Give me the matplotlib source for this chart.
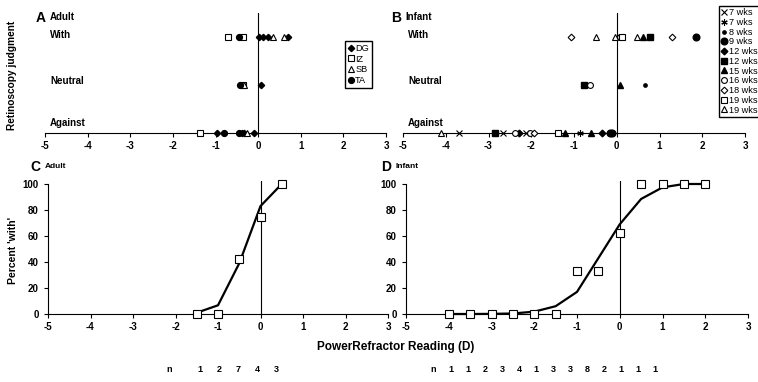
import matplotlib
matplotlib.use("Agg")
import matplotlib.pyplot as plt
from matplotlib.lines import Line2D

# ── Data ──────────────────────────────────────────────────────────────────────
LEVELS = {"Against": 0, "Neutral": 1, "With": 2}

# Panel A: adults, PowerRefractor reading vs retinoscopy judgment
DG_X = [0.03, 0.12, 0.22, 0.69, 0.06, -0.96, -0.39, -0.34, -0.09]
DG_J = ["With", "With", "With", "With", "Neutral", "Against", "Against", "Against", "Against"]
IZ_X = [-0.71, -0.36, -0.35, -1.36]
IZ_J = ["With", "With", "Neutral", "Against"]
SB_X = [0.35, 0.60, -0.34, -0.26]
SB_J = ["With", "With", "Neutral", "Against"]
TA_X = [-0.44, -0.43, -0.81, -0.44]
TA_J = ["With", "Neutral", "Against", "Against"]

# Panel B: infants
W7X_X = [-3.69, -2.65, -2.12]
W7X_J = ["Against", "Against", "Against"]
W7S_X = [-0.86]
W7S_J = ["Against"]
W8_X = [0.67]
W8_J = ["Neutral"]
W9_X = [1.86, -0.16, -0.10]
W9_J = ["With", "Against", "Against"]
W12D_X = [-2.28, -0.34]
W12D_J = ["Against", "Against"]
W12S_X = [0.77, -0.76, -2.84]
W12S_J = ["With", "Neutral", "Against"]
W15_X = [0.61, 0.08, -1.20, -0.60]
W15_J = ["With", "Neutral", "Against", "Against"]
W16_X = [0.07, -0.62, -2.38, -2.03]
W16_J = ["With", "Neutral", "Against", "Against"]
W18_X = [-1.07, 1.30, -1.94]
W18_J = ["With", "With", "Against"]
W19S_X = [0.13, -1.38]
W19S_J = ["With", "Against"]
W19T_X = [-0.48, 0.47, -0.05, -4.10]
W19T_J = ["With", "With", "With", "Against"]

# Panel C: adult percent 'with'
ADULT_BINS = [-1.5, -1.0, -0.5, 0.0, 0.5]
ADULT_PCT = [0, 0, 42.5, 75, 100]
ADULT_FIT = [1, 6.7, 39, 83, 100]
ADULT_N = [1, 2, 7, 4, 3]

# Panel D: infant percent 'with'
INFANT_BINS = [-4.0, -3.5, -3.0, -2.5, -2.0, -1.5, -1.0, -0.5, 0.0, 0.5, 1.0, 1.5, 2.0]
INFANT_PCT = [0, 0, 0, 0, 0, 0, 33.3, 33.3, 62, 100, 100, 100, 100]
INFANT_FIT = [0, 0, 0.1, 0.4, 1.8, 6, 17, 43, 69, 88.5, 97.4, 100, 100]
INFANT_N = [1, 1, 2, 3, 4, 1, 3, 3, 8, 2, 1, 1, 1]

X_TICKS = [-5, -4, -3, -2, -1, 0, 1, 2, 3]
Y_TICKS = [0, 20, 40, 60, 80, 100]

# ── Style ─────────────────────────────────────────────────────────────────────
FONT = ["Liberation Sans Narrow", "Liberation Sans", "DejaVu Sans"]
plt.rcParams.update({
    "font.family": FONT,
    "font.weight": "bold",
    "font.size": 7,
    "axes.unicode_minus": False,
    "axes.linewidth": 0.8,
    "xtick.major.width": 0.8,
    "ytick.major.width": 0.8,
    "xtick.major.size": 3,
    "ytick.major.size": 3,
    "xtick.direction": "out",
    "ytick.direction": "out",
})

W, H = 758, 382


def rect(x0, y_top, x1, y_bot):
    return [x0 / W, 1 - y_bot / H, (x1 - x0) / W, (y_bot - y_top) / H]


def ftext(fig, x, y, s, **kw):
    fig.text(x / W, 1 - y / H, s, **kw)


fig = plt.figure(figsize=(W / 100, H / 100), dpi=100)
fig.patch.set_facecolor("white")

FILLED = dict(color="black", linestyle="none")
OPEN = dict(color="black", markerfacecolor="white", markeredgewidth=0.8, linestyle="none")


def judgment_axes(r):
    ax = fig.add_axes(r)
    ax.set_xlim(-5, 3)
    ax.set_ylim(0, 2.5)
    for s in ("top", "right", "left"):
        ax.spines[s].set_visible(False)
    ax.set_yticks([])
    ax.set_xticks(X_TICKS)
    ax.tick_params(axis="x", labelsize=7, pad=3)
    ax.axvline(0, color="black", linewidth=0.8, zorder=1)
    for lab in ax.get_xticklabels():
        lab.set_fontweight("bold")
    return ax


# ── Panel A ───────────────────────────────────────────────────────────────────
axA = judgment_axes(rect(45, 13, 386, 133))
subjects = [
    (DG_X, DG_J, "DG", dict(marker="D", markersize=3.2, **FILLED)),
    (IZ_X, IZ_J, "IZ", dict(marker="s", markersize=4.6, **OPEN)),
    (SB_X, SB_J, "SB", dict(marker="^", markersize=4.6, **OPEN)),
    (TA_X, TA_J, "TA", dict(marker="o", markersize=4.2, **FILLED)),
]
handles = []
for xs, js, name, st in subjects:
    axA.plot(xs, [LEVELS[j] for j in js], clip_on=False, zorder=3, **st)
    handles.append(Line2D([], [], label=name, **st))
fig.legend(handles=handles, loc="upper left", bbox_to_anchor=(345 / W, 1 - 41 / H),
           frameon=True, fancybox=False, edgecolor="black", framealpha=1,
           handlelength=0.6, handletextpad=0.2, labelspacing=0.2,
           borderpad=0.3, borderaxespad=0, prop={"family": FONT, "size": 6.6, "weight": "normal"})

# ── Panel B ───────────────────────────────────────────────────────────────────
axB = judgment_axes(rect(403, 13, 745, 133))
infants = [
    (W7X_X, W7X_J, "7 wks", dict(marker="x", markersize=3.8, markeredgewidth=0.8, **FILLED)),
    (W7S_X, W7S_J, "7 wks", dict(marker=(6, 2, 0), markersize=4.6, markeredgewidth=0.8, **FILLED)),
    (W8_X, W8_J, "8 wks", dict(marker="o", markersize=2.4, **FILLED)),
    (W9_X, W9_J, "9 wks", dict(marker="o", markersize=4.8, **FILLED)),
    (W12D_X, W12D_J, "12 wks", dict(marker="D", markersize=3.4, **FILLED)),
    (W12S_X, W12S_J, "12 wks", dict(marker="s", markersize=4.2, **FILLED)),
    (W15_X, W15_J, "15 wks", dict(marker="^", markersize=4.2, **FILLED)),
    (W16_X, W16_J, "16 wks", dict(marker="o", markersize=4.2, **OPEN)),
    (W18_X, W18_J, "18 wks", dict(marker="D", markersize=3.4, **OPEN)),
    (W19S_X, W19S_J, "19 wks", dict(marker="s", markersize=4.6, **OPEN)),
    (W19T_X, W19T_J, "19 wks", dict(marker="^", markersize=4.6, **OPEN)),
]
handles = []
for xs, js, name, st in infants:
    axB.plot(xs, [LEVELS[j] for j in js], clip_on=False, zorder=3, **st)
    handles.append(Line2D([], [], label=name, **st))
fig.legend(handles=handles, loc="upper left", bbox_to_anchor=(719 / W, 1 - 6 / H),
           frameon=True, fancybox=False, edgecolor="black", framealpha=1,
           handlelength=0.6, handletextpad=0.2, labelspacing=0.08,
           borderpad=0.25, borderaxespad=0, prop={"family": FONT, "size": 6.6, "weight": "normal"})

# panel labels A / B
for x0, letter, group in ((36, "A", "Adult"), (391, "B", "Infant")):
    ftext(fig, x0, 18, letter, fontsize=10, fontweight="bold", family="Liberation Sans", va="center")
    ftext(fig, x0 + 14, 17, group, fontsize=7, fontweight="bold", va="center")
for x0 in (50, 408):
    ftext(fig, x0, 35, "With", fontsize=7, fontweight="bold", va="center")
    ftext(fig, x0, 81, "Neutral", fontsize=7, fontweight="bold", va="center")
    ftext(fig, x0, 123, "Against", fontsize=7, fontweight="bold", va="center")
ftext(fig, 12, 75, "Retinoscopy judgment", fontsize=7.3, fontweight="bold",
      rotation=90, ha="center", va="center")


# ── Panels C / D ──────────────────────────────────────────────────────────────
def percent_axes(r, bins, pct, fit):
    ax = fig.add_axes(r)
    ax.set_xlim(-5, 3)
    ax.set_ylim(0, 102)
    ax.spines["top"].set_visible(False)
    ax.spines["right"].set_visible(False)
    ax.spines["left"].set_bounds(0, 100)
    ax.set_xticks(X_TICKS)
    ax.set_yticks(Y_TICKS)
    ax.tick_params(labelsize=7)
    ax.tick_params(axis="x", pad=3)
    for lab in ax.get_xticklabels() + ax.get_yticklabels():
        lab.set_fontweight("bold")
    ax.axvline(0, color="black", linewidth=0.8, zorder=1)
    ax.plot(bins, fit, color="black", linewidth=1.6, zorder=2, clip_on=False)
    ax.plot(bins, pct, marker="s", markersize=5.2, clip_on=False, zorder=3, **OPEN)
    return ax


axC = percent_axes(rect(48, 181.4, 388, 314), ADULT_BINS, ADULT_PCT, ADULT_FIT)
axD = percent_axes(rect(406, 181.4, 748, 314), INFANT_BINS, INFANT_PCT, INFANT_FIT)

ftext(fig, 30, 167, "C", fontsize=10, fontweight="bold", family="Liberation Sans", va="center")
ftext(fig, 45, 166, "Adult", fontsize=6, fontweight="bold", va="center")
ftext(fig, 381, 167, "D", fontsize=10, fontweight="bold", family="Liberation Sans", va="center")
ftext(fig, 395, 166, "Infant", fontsize=6, fontweight="bold", va="center")
ftext(fig, 13, 250, "Percent 'with'", fontsize=7.5, fontweight="bold",
      rotation=90, ha="center", va="center")

ftext(fig, 396, 347, "PowerRefractor Reading (D)", fontsize=8.5, fontweight="bold",
      ha="center", va="center")

# n table under the x label
ftext(fig, 169, 370, "n", fontsize=6.5, ha="center", va="center")
for i, n in enumerate(ADULT_N):
    ftext(fig, 200 + i * 19.2, 370, str(n), fontsize=6.5, ha="center", va="center")
ftext(fig, 433, 370, "n", fontsize=6.5, ha="center", va="center")
for i, n in enumerate(INFANT_N):
    ftext(fig, 451 + i * 17.0, 370, str(n), fontsize=6.5, ha="center", va="center")

fig.savefig("out.png", dpi=100)
